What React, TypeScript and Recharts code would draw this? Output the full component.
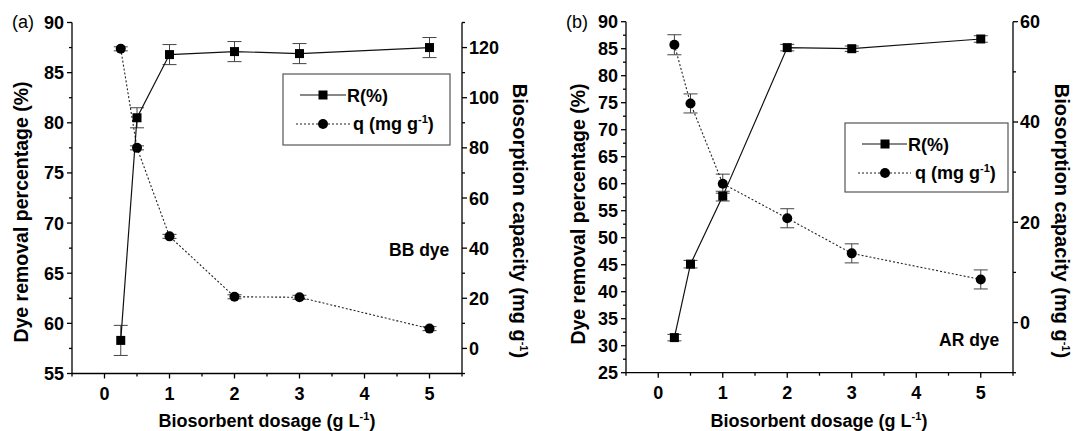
import React from 'react';
import { LineChart, Line, XAxis, YAxis, ErrorBar, Customized } from 'recharts';

// ---- data ----
const dosage = [0.25, 0.5, 1, 2, 3, 5];
const bbRemoval = [58.3, 80.5, 86.8, 87.1, 86.9, 87.5];
const bbRemovalErr = [1.5, 1.0, 1.0, 1.0, 1.0, 1.0];
const bbCapacity = [119.5, 80.0, 44.7, 20.6, 20.4, 7.9];
const bbCapacityErr = [0.8, 0.8, 0.8, 0.8, 0.8, 0.8];
const arRemoval = [31.5, 45.1, 57.7, 85.2, 85.0, 86.8];
const arRemovalErr = [0.6, 0.7, 0.9, 0.6, 0.5, 0.6];
const arCapacity = [55.4, 43.7, 27.7, 20.8, 13.8, 8.6];
const arCapacityErr = [2.0, 1.9, 1.9, 1.9, 1.9, 1.9];

// ---- tick values ----
const xTicks = [-0.5, 0, 0.5, 1, 1.5, 2, 2.5, 3, 3.5, 4, 4.5, 5, 5.5];
const bbLeftTicks = [55, 57.5, 60, 62.5, 65, 67.5, 70, 72.5, 75, 77.5, 80, 82.5, 85, 87.5, 90];
const bbRightTicks = [-10, 0, 10, 20, 30, 40, 50, 60, 70, 80, 90, 100, 110, 120, 130];
const arLeftTicks = [25, 27.5, 30, 32.5, 35, 37.5, 40, 42.5, 45, 47.5, 50, 52.5, 55, 57.5, 60, 62.5, 65, 67.5, 70, 72.5, 75, 77.5, 80, 82.5, 85, 87.5, 90];
const arRightTicks = [-10, 0, 10, 20, 30, 40, 50, 60];

const FONT = '"Liberation Sans", Arial, Helvetica, sans-serif';
const TICK_FS = 18;
const BOLD = { fontFamily: FONT, fontWeight: 700 as const };

const isMajor = (v: number, step: number) => Math.abs(v / step - Math.round(v / step)) < 1e-6;

const bottomTick = (p: any) => {
  const v = p.payload.value;
  const major = isMajor(v, 1);
  return (
    <g>
      <line x1={p.x} x2={p.x} y1={p.y} y2={p.y + (major ? 5 : 3)} stroke="#000" strokeWidth={1.3} />
      {major && (
        <text x={p.x} y={p.y + 26} textAnchor="middle" fontSize={TICK_FS} fill="#000" style={BOLD}>
          {v}
        </text>
      )}
    </g>
  );
};

const topTick = (p: any) => (
  <line x1={p.x} x2={p.x} y1={p.y} y2={p.y + 4} stroke="#000" strokeWidth={1.3} />
);

const makeLeftTick = (step: number) => (p: any) => {
  const v = p.payload.value;
  const major = isMajor(v, step);
  return (
    <g>
      <line x1={p.x - (major ? 5 : 3)} x2={p.x} y1={p.y} y2={p.y} stroke="#000" strokeWidth={1.3} />
      {major && (
        <text x={p.x - 8} y={p.y + 6.5} textAnchor="end" fontSize={TICK_FS} fill="#000" style={BOLD}>
          {v}
        </text>
      )}
    </g>
  );
};

const makeRightTick = (step: number, labelMin: number, labelMax: number) => (p: any) => {
  const v = p.payload.value;
  const major = isMajor(v, step);
  const labelled = major && v >= labelMin && v <= labelMax;
  return (
    <g>
      <line x1={p.x} x2={p.x + (major ? 5 : 3)} y1={p.y} y2={p.y} stroke="#000" strokeWidth={1.3} />
      {labelled && (
        <text x={p.x + 7} y={p.y + 6.5} textAnchor="start" fontSize={TICK_FS} fill="#000" style={BOLD}>
          {v}
        </text>
      )}
    </g>
  );
};

const squareDot = (p: any) => (
  <rect key={`s-${p.index}`} x={p.cx - 4.5} y={p.cy - 4.5} width={9} height={9} fill="#000" />
);
const circleDot = (p: any) => (
  <circle key={`c-${p.index}`} cx={p.cx} cy={p.cy} r={5} fill="#000" />
);

type Layout = {
  tag: string; tagX: number;
  yTitleX: number; yTitleY: number;
  rTitleX: number; rTitleY: number;
  xTitleX: number;
  note: string; noteX: number; noteY: number;
  box: [number, number, number, number];
  row1: number; row2: number;
  lineX1: number; lineX2: number; markX: number;
  rTextX: number; qTextX: number;
};

const Overlay = ({ L }: { L: Layout }) => {
  return (
    <g>
      <text x={L.tagX} y={28} fontSize={18} fill="#000" style={{ fontFamily: FONT, fontWeight: 400 }}>{L.tag}</text>
      <text
        x={L.yTitleX} y={L.yTitleY} textAnchor="middle" dy="0.35em" fontSize={19.5} fill="#000" style={BOLD}
        transform={`rotate(-90, ${L.yTitleX}, ${L.yTitleY})`}
      >
        Dye removal percentage (%)
      </text>
      <text
        x={L.rTitleX} y={L.rTitleY} textAnchor="middle" dy="0.35em" fontSize={20} fill="#000" style={BOLD}
        transform={`rotate(90, ${L.rTitleX}, ${L.rTitleY})`}
      >
        Biosorption capacity (mg g<tspan dy="-7" fontSize={11}>-1</tspan><tspan dy="7">)</tspan>
      </text>
      <text x={L.xTitleX} y={427} textAnchor="middle" fontSize={18} fill="#000" style={BOLD}>
        Biosorbent dosage (g L<tspan dy="-7" fontSize={11}>-1</tspan><tspan dy="7">)</tspan>
      </text>
      <text x={L.noteX} y={L.noteY} fontSize={17.5} fill="#000" style={BOLD}>{L.note}</text>
      {/* legend */}
      <rect x={L.box[0]} y={L.box[1]} width={L.box[2]} height={L.box[3]} fill="#fff" stroke="#555" strokeWidth={1.2} />
      <line x1={L.lineX1} x2={L.lineX2} y1={L.row1} y2={L.row1} stroke="#111" strokeWidth={1.2} />
      <rect x={L.markX - 4.5} y={L.row1 - 4.5} width={9} height={9} fill="#000" />
      <text x={L.rTextX} y={L.row1 + 6.5} fontSize={18} fill="#000" style={BOLD}>R(%)</text>
      <line x1={L.lineX1 - 4} x2={L.lineX2 + 4} y1={L.row2} y2={L.row2} stroke="#222" strokeWidth={1.1} strokeDasharray="2 2" />
      <circle cx={L.markX} cy={L.row2} r={5} fill="#000" />
      <text x={L.qTextX} y={L.row2 + 6} fontSize={18} fill="#000" style={BOLD}>
        q (mg g<tspan dy="-7" fontSize={11}>-1</tspan><tspan dy="7">)</tspan>
      </text>
    </g>
  );
};

type PanelProps = {
  data: any[];
  leftDomain: [number, number]; leftTicks: number[]; leftStep: number;
  rightDomain: [number, number]; rightTicks: number[]; rightStep: number; rightLabelMax: number;
  top: number; leftW: number; rightW: number; xH: number;
  L: Layout;
};

const Panel = (p: PanelProps) => (
  <LineChart
    width={538}
    height={431}
    data={p.data}
    margin={{ top: p.top, left: 0, right: 0, bottom: 0 }}
    style={{ fontFamily: FONT }}
  >
    <XAxis
      xAxisId="b" type="number" dataKey="x" domain={[-0.5, 5.5]} ticks={xTicks} interval={0}
      height={p.xH} tickSize={0} tickMargin={0} tickLine={false} allowDataOverflow
      axisLine={{ stroke: '#000', strokeWidth: 1.3 }} tick={bottomTick}
    />
    <XAxis
      xAxisId="t" orientation="top" type="number" dataKey="x" domain={[-0.5, 5.5]} ticks={xTicks} interval={0}
      height={0} tickSize={0} tickMargin={0} tickLine={false} allowDataOverflow
      axisLine={{ stroke: '#000', strokeWidth: 1.3 }} tick={topTick}
    />
    <YAxis
      yAxisId="L" type="number" domain={p.leftDomain} ticks={p.leftTicks} interval={0} width={p.leftW}
      tickSize={0} tickMargin={0} tickLine={false} allowDataOverflow
      axisLine={{ stroke: '#000', strokeWidth: 1.3 }} tick={makeLeftTick(p.leftStep)}
    />
    <YAxis
      yAxisId="R" orientation="right" type="number" domain={p.rightDomain} ticks={p.rightTicks} interval={0} width={p.rightW}
      tickSize={0} tickMargin={0} tickLine={false} allowDataOverflow
      axisLine={{ stroke: '#000', strokeWidth: 1.3 }} tick={makeRightTick(p.rightStep, 0, p.rightLabelMax)}
    />
    <Line
      xAxisId="b" yAxisId="R" dataKey="q" stroke="#222" strokeWidth={1.1} strokeDasharray="2 2"
      dot={circleDot} activeDot={false} isAnimationActive={false}
    >
      <ErrorBar dataKey="qErr" width={7} stroke="#444" strokeWidth={1} direction="y" />
    </Line>
    <Line
      xAxisId="b" yAxisId="L" dataKey="R" stroke="#111" strokeWidth={1.2}
      dot={squareDot} activeDot={false} isAnimationActive={false}
    >
      <ErrorBar dataKey="RErr" width={7} stroke="#444" strokeWidth={1} direction="y" />
    </Line>
    <Customized component={<Overlay L={p.L} />} />
  </LineChart>
);

const bbData = dosage.map((x, i) => ({ x, R: bbRemoval[i], RErr: bbRemovalErr[i], q: bbCapacity[i], qErr: bbCapacityErr[i] }));
const arData = dosage.map((x, i) => ({ x, R: arRemoval[i], RErr: arRemovalErr[i], q: arCapacity[i], qErr: arCapacityErr[i] }));

const layoutA: Layout = {
  tag: '(a)', tagX: 12,
  yTitleX: 21, yTitleY: 212,
  rTitleX: 520, rTitleY: 221,
  xTitleX: 267,
  note: 'BB dye', noteX: 389, noteY: 256,
  box: [283, 74, 167, 71],
  row1: 95, row2: 124,
  lineX1: 300, lineX2: 346, markX: 323,
  rTextX: 347, qTextX: 353,
};

const layoutB: Layout = {
  tag: '(b)', tagX: 28,
  yTitleX: 40, yTitleY: 214,
  rTitleX: 524, rTitleY: 221,
  xTitleX: 281,
  note: 'AR dye', noteX: 401, noteY: 346,
  box: [307, 123, 163, 69],
  row1: 144, row2: 173,
  lineX1: 324, lineX2: 369, markX: 347,
  rTextX: 370, qTextX: 377,
};

export default function App() {
  return (
    <div style={{ position: 'absolute', left: 0, top: 0, width: 1076, height: 431, background: '#fff' }}>
      <div style={{ position: 'absolute', left: 0, top: 0 }}>
        <Panel
          data={bbData}
          leftDomain={[55, 90]} leftTicks={bbLeftTicks} leftStep={5}
          rightDomain={[-10, 130]} rightTicks={bbRightTicks} rightStep={20} rightLabelMax={120}
          top={22.5} leftW={72} rightW={76} xH={57.5}
          L={layoutA}
        />
      </div>
      <div style={{ position: 'absolute', left: 538, top: 0 }}>
        <Panel
          data={arData}
          leftDomain={[25, 90]} leftTicks={arLeftTicks} leftStep={5}
          rightDomain={[-10, 60]} rightTicks={arRightTicks} rightStep={20} rightLabelMax={60}
          top={21.7} leftW={88} rightW={63} xH={58.3}
          L={layoutB}
        />
      </div>
    </div>
  );
}
